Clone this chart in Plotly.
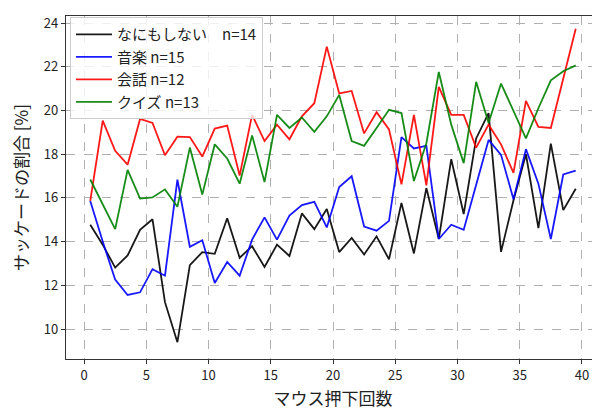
import plotly.graph_objects as go

x_vals = [i + 0.5 for i in range(40)]

nothing = [14.77, 13.86, 12.81, 13.37, 14.54, 15.02, 11.23, 9.40, 12.92, 13.52,
           13.44, 15.07, 13.26, 13.79, 12.84, 13.86, 13.34, 15.29, 14.57, 15.49,
           13.52, 14.17, 13.41, 14.24, 13.19, 15.77, 13.46, 16.45, 14.12, 17.77,
           15.26, 18.72, 19.88, 13.53, 15.89, 18.00, 14.62, 18.48, 15.44, 16.42]
music = [15.86, 14.00, 12.26, 11.56, 11.68, 12.74, 12.44, 16.83, 13.76, 14.06,
         12.11, 13.07, 12.44, 14.09, 15.11, 14.09, 15.19, 15.67, 15.82, 14.65,
         16.50, 16.99, 14.69, 14.50, 14.95, 18.78, 18.26, 18.38, 14.12, 14.77,
         14.54, 16.57, 18.65, 17.97, 15.94, 18.23, 16.65, 14.12, 17.07, 17.25]
talk = [15.86, 19.53, 18.15, 17.52, 19.61, 19.43, 17.95, 18.80, 18.78, 17.89,
        19.17, 19.31, 17.02, 19.80, 18.60, 19.35, 18.68, 19.73, 20.33, 22.92,
        20.78, 20.89, 18.95, 19.92, 19.13, 16.62, 19.80, 16.57, 21.08, 19.80,
        19.80, 18.30, 19.35, 18.45, 17.14, 20.44, 19.25, 19.20, 21.46, 23.74]
quiz = [16.84, 15.70, 14.57, 17.28, 15.97, 16.02, 16.39, 15.59, 18.30, 16.15,
        18.45, 17.80, 16.65, 18.86, 16.72, 19.80, 19.20, 19.68, 19.02, 19.73,
        20.71, 18.60, 18.38, 19.20, 20.03, 19.88, 16.77, 18.50, 21.76, 19.35,
        17.59, 21.31, 19.43, 21.23, 19.95, 18.72, 20.10, 21.38, 21.79, 22.06]

names = ["なにもしない　n=14", "音楽 n=15", "会話 n=12", "クイズ n=13"]
colors = ["#000000", "#0000ff", "#ff0000", "#008000"]
series = [nothing, music, talk, quiz]

x_ticks = [0, 5, 10, 15, 20, 25, 30, 35, 40]
y_ticks = [10, 12, 14, 16, 18, 20, 22, 24]

FONT = "Noto Sans CJK JP"

fig = go.Figure()
for name, col, ys in zip(names, colors, series):
    fig.add_trace(go.Scatter(x=x_vals, y=ys, mode="lines", name=name,
                             line=dict(color=col, width=1.8), opacity=0.9))

axis_common = dict(
    showgrid=True, gridcolor="#b0b0b0", griddash="dash", gridwidth=1,
    showline=True, linecolor="#333333", linewidth=1.3,
    ticks="outside", ticklen=4, tickcolor="#333333", tickwidth=1,
    zeroline=False, tickfont=dict(family=FONT, size=13, color="#222222"),
)

fig.update_layout(
    width=600, height=409,
    margin=dict(l=58, r=8, t=5, b=58),
    paper_bgcolor="white", plot_bgcolor="white",
    font=dict(family=FONT, color="#222222"),
    showlegend=True,
    legend=dict(x=0.0075, y=0.997, xanchor="left", yanchor="top",
                bgcolor="rgba(255,255,255,0.8)", bordercolor="#cccccc", borderwidth=1,
                font=dict(family=FONT, size=15, color="#222222"),
                tracegroupgap=0, itemwidth=36),
    xaxis=dict(range=[-1.45, 41.45], tickvals=x_ticks, mirror=True,
               title=dict(text="マウス押下回数", font=dict(family=FONT, size=17), standoff=10),
               **axis_common),
    yaxis=dict(range=[8.63, 24.32], tickvals=y_ticks, mirror=False,
               title=dict(text="サッケードの割合 [%]", font=dict(family=FONT, size=17), standoff=12),
               **axis_common),
)

fig.write_html("out.html")
